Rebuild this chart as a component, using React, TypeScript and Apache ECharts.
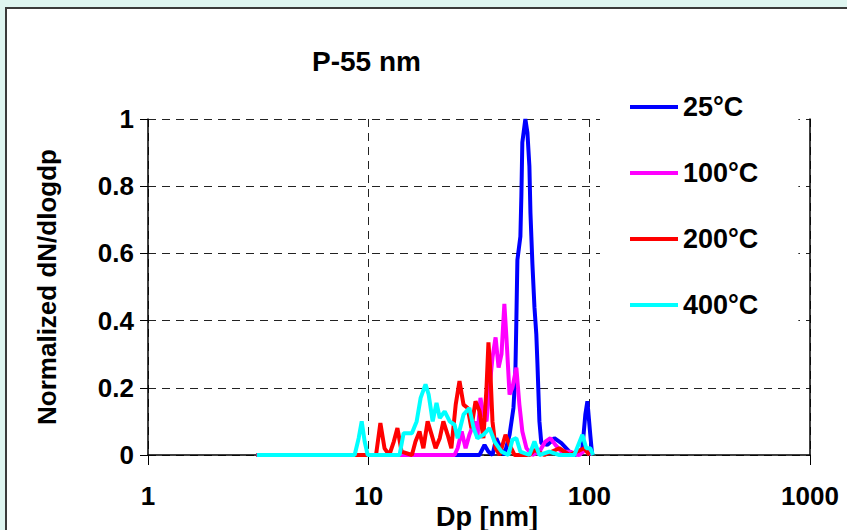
import React, { useEffect, useRef } from "react";
import * as echarts from "echarts";

const TITLE = "P-55 nm";
const X_NAME = "Dp [nm]";
const Y_NAME = "Normalized dN/dlogdp";
const NAMES = ["25°C", "100°C", "200°C", "400°C"];
const COLORS = ["#0000ff", "#ff00ff", "#ff0000", "#00ffff"];

// [Dp (nm), normalized dN/dlogdp]
const S25: [number, number][] = [
  [3.1, 0], [28.6, 0], [31.8, 0], [33.5, 0.03], [34.9, 0.01], [36.4, 0], [37.9, 0.05],
  [39.6, 0.02], [41.2, 0], [43.5, 0.06], [45.3, 0.14], [46.2, 0.24], [46.7, 0.4],
  [47.2, 0.58], [48.7, 0.65], [49.2, 0.77], [49.7, 0.93], [51.3, 1.0], [52.4, 0.96],
  [53.5, 0.86], [54.1, 0.72], [55.2, 0.57], [56.4, 0.44], [57.5, 0.36], [58.2, 0.27],
  [59.4, 0.1], [60.6, 0.035], [64.6, 0.03], [69.4, 0.05], [74.7, 0.035], [81.2, 0.01],
  [87.3, 0], [93.0, 0.02], [95.9, 0.12], [98.0, 0.16], [101, 0.06], [103, 0],
];
const S100: [number, number][] = [
  [3.1, 0], [24.5, 0], [25.3, 0.02], [26.4, 0.07], [27.5, 0.02], [28.6, 0.06], [30.2, 0.1],
  [31.1, 0.05], [32.1, 0.17], [33.1, 0.12], [34.2, 0.1], [35.3, 0.2], [36.4, 0.29],
  [37.6, 0.35], [38.8, 0.26], [40.0, 0.3], [41.2, 0.45], [42.1, 0.35], [43.5, 0.18],
  [44.8, 0.2], [46.7, 0.26], [48.2, 0.15], [49.7, 0.07], [51.9, 0.02], [55.2, 0],
  [59.4, 0.01], [63.2, 0.04], [66.6, 0.05], [70.2, 0.03], [74.7, 0.01], [81.2, 0.01],
  [90.1, 0], [98, 0.02], [102, 0],
];
const S200: [number, number][] = [
  [3.1, 0], [10.1, 0], [10.8, 0], [11.3, 0.095], [11.8, 0.02], [12.4, 0], [13.0, 0.04],
  [13.5, 0.08], [14.1, 0.01], [15.7, 0], [16.3, 0.04], [17.0, 0.07], [17.7, 0.02],
  [18.5, 0.1], [19.3, 0.06], [20.1, 0.02], [21.0, 0.05], [21.8, 0.1], [22.8, 0.06],
  [23.7, 0.02], [24.8, 0.15], [25.8, 0.22], [26.9, 0.15], [28.1, 0.14], [29.2, 0.08],
  [30.5, 0.16], [31.8, 0.13], [33.1, 0.05], [34.2, 0.2], [34.9, 0.335], [35.6, 0.25],
  [36.4, 0.1], [37.6, 0.02], [39.2, 0], [41.7, 0.06], [43.5, 0.03], [45.8, 0],
  [53.5, 0], [56.4, 0.015], [62.6, 0], [73.1, 0.02], [81.2, 0], [94.9, 0.02], [100, 0],
];
const S400: [number, number][] = [
  [3.11, 0], [8.64, 0], [9.01, 0.05], [9.3, 0.1], [9.59, 0.04], [9.9, 0], [13.8, 0],
  [14.4, 0.065], [15.7, 0.065], [16.5, 0.1], [17.2, 0.17], [18.1, 0.21], [18.7, 0.18],
  [19.5, 0.1], [20.3, 0.155], [21.0, 0.11], [22.1, 0.13], [23.3, 0.1], [24.5, 0.09],
  [25.3, 0.05], [26.9, 0.12], [28.6, 0.14], [29.9, 0.08], [31.1, 0.05], [33.1, 0.06],
  [35.3, 0.08], [37.2, 0.04], [40.0, 0.01], [43.0, 0], [44.8, 0.045], [46.7, 0.05],
  [48.7, 0.01], [53.5, 0], [56.4, 0.04], [59.4, 0], [65.9, 0.01], [73.1, 0], [85.5, 0],
  [93.0, 0.06], [96.9, 0.02], [101, 0.02], [104, 0],
];
const SERIES = [S25, S100, S200, S400];

const FONT = "'Liberation Sans', Arial, sans-serif";

export default function App() {
  const ref = useRef<HTMLDivElement>(null);
  useEffect(() => {
    if (!ref.current) return;
    const chart = echarts.init(ref.current, null, { renderer: "svg" });
    const dash = { color: "#222", width: 1, type: [8, 6] as number[] };
    chart.setOption({
      animation: false,
      backgroundColor: "#def5f0",
      textStyle: { fontFamily: FONT },
      graphic: [
        {
          type: "rect",
          z: -100,
          silent: true,
          shape: { x: 6, y: 8, width: 860, height: 540 },
          style: { fill: "#ffffff", stroke: "#3a3a3a", lineWidth: 2 },
        },
      ],
      title: {
        text: TITLE,
        left: 307,
        top: 42,
        textStyle: { fontFamily: FONT, fontWeight: "bold", fontSize: 28, color: "#000" },
      },
      legend: {
        orient: "vertical",
        left: 600,
        top: 80,
        padding: [12, 40, 14, 30],
        backgroundColor: "#ffffff",
        icon: "rect",
        itemWidth: 48,
        itemHeight: 4,
        itemGap: 36,
        data: NAMES,
        textStyle: {
          fontFamily: FONT,
          fontWeight: "bold",
          fontSize: 27,
          lineHeight: 30,
          color: "#000",
        },
      },
      grid: {
        left: 148,
        top: 119,
        width: 662,
        height: 336,
        containLabel: false,
        outerBoundsMode: "none",
      },
      xAxis: {
        type: "log",
        logBase: 10,
        min: 1,
        max: 1000,
        name: X_NAME,
        nameLocation: "middle",
        nameGap: 48,
        nameMoveOverlap: false,
        nameTextStyle: {
          fontFamily: FONT,
          fontWeight: "bold",
          fontSize: 27,
          color: "#000",
          padding: [0, 0, 0, 16],
        },
        axisLine: { lineStyle: { color: "#000", width: 1.5 } },
        axisTick: { show: true, length: 10, lineStyle: { color: "#000" } },
        axisLabel: {
          margin: 28,
          fontFamily: FONT,
          fontWeight: "bold",
          fontSize: 26,
          color: "#000",
          formatter: (v: number) => String(Math.round(v)),
        },
        splitLine: { show: true, lineStyle: dash },
        minorTick: { show: false },
      },
      yAxis: [
        {
          type: "value",
          min: 0,
          max: 1,
          interval: 0.2,
          name: Y_NAME,
          nameLocation: "middle",
          nameGap: 88,
          nameRotate: 90,
          nameMoveOverlap: false,
          nameTextStyle: {
            fontFamily: FONT,
            fontWeight: "bold",
            fontSize: 26,
            color: "#000",
          },
          axisLine: { show: true, lineStyle: { color: "#000", width: 1.5 } },
          axisTick: { show: true, length: 8, lineStyle: { color: "#000" } },
          axisLabel: {
            margin: 14,
            fontFamily: FONT,
            fontWeight: "bold",
            fontSize: 26,
            color: "#000",
          },
          splitLine: { show: true, lineStyle: dash },
        },
        {
          type: "value",
          min: 0,
          max: 1,
          interval: 0.2,
          position: "right",
          axisLine: { show: true, lineStyle: { color: "#000", width: 1.5 } },
          axisTick: { show: false },
          axisLabel: { show: false },
          splitLine: { show: false },
        },
      ],
      series: SERIES.map((data, i) => ({
        type: "line",
        name: NAMES[i],
        data,
        symbol: "none",
        showSymbol: false,
        color: COLORS[i],
        lineStyle: { color: COLORS[i], width: 4 },
        z: 2 + i,
      })),
    });
    return () => chart.dispose();
  }, []);
  return (
    <div
      ref={ref}
      style={{ position: "fixed", left: 0, top: 0, width: 847, height: 530 }}
    />
  );
}
